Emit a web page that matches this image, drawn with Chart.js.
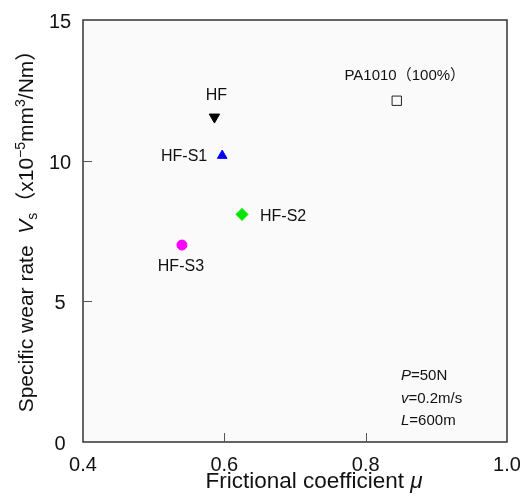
<!DOCTYPE html>
<html lang="en">
<head>
    <meta charset="UTF-8">
    <title>Specific wear rate vs frictional coefficient</title>
    <script src="https://cdn.jsdelivr.net/npm/chart.js"></script>
    <style>
        body {
            margin: 0;
            padding: 0;
            background-color: #fff;
        }
        .chartBox {
            position: relative;
            width: 522px;
            height: 500px;
        }
    </style>
</head>
<body>
    <div class="chartBox">
        <canvas id="myChart"></canvas>
    </div>
    <script>
        // values
        const sampleNames = ['HF', 'HF-S1', 'HF-S2', 'HF-S3', 'PA1010（100%）'];
        const frictionCoef = [0.586, 0.597, 0.625, 0.540, 0.844];
        const wearRate = [11.55, 10.18, 8.09, 7.00, 12.13];
        const xTicks = [0.4, 0.6, 0.8, 1.0];
        const yTicks = [0, 5, 10, 15];
        const testConditions = [['P', '=50N'], ['v', '=0.2m/s'], ['L', '=600m']];

        const FONT = '"Liberation Sans", Arial, "Noto Sans CJK JP", sans-serif';
        const TEXT = '#111';

        // marker look + where its label sits relative to the marker
        const markStyles = [
            {shape: 'triangle', rotation: 180, radius: 6, fill: '#000', stroke: '#000', dx: 2, dy: -21, align: 'center', size: 16},
            {shape: 'triangle', rotation: 0, radius: 5.5, fill: '#0000ff', stroke: '#0000ff', dx: -15, dy: 1, align: 'right', size: 16},
            {shape: 'rectRot', rotation: 0, radius: 6, fill: '#00e600', stroke: '#00e600', dx: 18, dy: 2, align: 'left', size: 16},
            {shape: 'circle', rotation: 0, radius: 5, fill: '#ff00ff', stroke: '#ff00ff', dx: -1, dy: 22, align: 'center', size: 16},
            {shape: 'rect', rotation: 0, radius: 6.6, fill: '#fafafa', stroke: '#222', dx: 8, dy: -25, align: 'center', size: 15}
        ];

        const datasets = sampleNames.map((name, i) => {
            const s = markStyles[i];
            return {
                label: name,
                data: [{x: frictionCoef[i], y: wearRate[i]}],
                pointStyle: s.shape,
                pointRotation: s.rotation,
                pointRadius: s.radius,
                pointBackgroundColor: s.fill,
                pointBorderColor: s.stroke,
                pointBorderWidth: 1,
                showLine: false
            };
        });

        function fontOf(r) {
            return (r.italic ? 'italic ' : '') + r.size + 'px ' + FONT;
        }

        // draws a row of text pieces with their own size / italic / baseline shift
        function drawRuns(ctx, runs, x, y, align) {
            let total = 0;
            runs.forEach(r => {
                ctx.font = fontOf(r);
                r.w = ctx.measureText(r.t).width;
                total += r.w;
            });
            let cx = align === 'center' ? x - total / 2 : x;
            ctx.textAlign = 'left';
            ctx.textBaseline = 'alphabetic';
            runs.forEach(r => {
                ctx.font = fontOf(r);
                ctx.fillText(r.t, cx, y + (r.shift || 0));
                cx += r.w;
            });
        }

        const figurePlugin = {
            id: 'figure',
            beforeDraw(chart) {
                const {ctx, chartArea: a} = chart;
                ctx.save();
                ctx.fillStyle = '#fafafa';
                ctx.fillRect(a.left, a.top, a.right - a.left, a.bottom - a.top);
                ctx.restore();
            },
            afterDraw(chart) {
                const {ctx, chartArea: a, scales} = chart;
                ctx.save();

                // frame
                ctx.strokeStyle = '#333';
                ctx.lineWidth = 1.5;
                ctx.strokeRect(a.left, a.top, a.right - a.left, a.bottom - a.top);

                // inward tick marks
                ctx.strokeStyle = '#555';
                ctx.lineWidth = 1;
                ctx.beginPath();
                xTicks.slice(1, -1).forEach(v => {
                    const px = Math.round(scales.x.getPixelForValue(v)) + 0.5;
                    ctx.moveTo(px, a.bottom);
                    ctx.lineTo(px, a.bottom - 9);
                });
                yTicks.slice(1, -1).forEach(v => {
                    const py = Math.round(scales.y.getPixelForValue(v)) + 0.5;
                    ctx.moveTo(a.left, py);
                    ctx.lineTo(a.left + 9, py);
                });
                ctx.stroke();

                // tick labels
                ctx.fillStyle = TEXT;
                ctx.font = '20px ' + FONT;
                ctx.textAlign = 'center';
                ctx.textBaseline = 'alphabetic';
                xTicks.forEach(v => {
                    ctx.fillText(v.toFixed(1), scales.x.getPixelForValue(v), a.bottom + 29);
                });
                yTicks.forEach(v => {
                    ctx.fillText(String(v), a.left - 23, scales.y.getPixelForValue(v) + 8);
                });

                // sample labels next to markers
                ctx.textBaseline = 'middle';
                chart.data.datasets.forEach((ds, i) => {
                    const pt = chart.getDatasetMeta(i).data[0];
                    const s = markStyles[i];
                    ctx.font = s.size + 'px ' + FONT;
                    ctx.textAlign = s.align;
                    ctx.fillText(ds.label, pt.x + s.dx, pt.y + s.dy);
                });

                // test conditions
                testConditions.forEach((c, i) => {
                    drawRuns(ctx, [
                        {t: c[0], size: 15, italic: true},
                        {t: c[1], size: 15}
                    ], a.left + 318, a.bottom - 62 + i * 22.5, 'left');
                });

                // x title
                drawRuns(ctx, [
                    {t: 'Frictional coefficient ', size: 22.5},
                    {t: 'μ', size: 22.5, italic: true}
                ], (a.left + a.right) / 2 + 19, 488, 'center');

                // y title (rotated)
                ctx.translate(33, (a.top + a.bottom) / 2 - 5);
                ctx.rotate(-Math.PI / 2);
                drawRuns(ctx, [
                    {t: 'Specific wear rate  ', size: 21},
                    {t: 'V', size: 21, italic: true},
                    {t: 's', size: 14, shift: 4},
                    {t: '（x10', size: 21},
                    {t: '−5', size: 14, shift: -8},
                    {t: 'mm', size: 21},
                    {t: '3', size: 14, shift: -8},
                    {t: '/Nm）', size: 21}
                ], 0, 0, 'center');

                ctx.restore();
            }
        };

        const ctx = document.getElementById('myChart');

        const myChart = new Chart(ctx, {
            type: 'scatter',
            data: {datasets: datasets},
            options: {
                responsive: true,
                maintainAspectRatio: false,
                animation: false,
                events: [],
                layout: {
                    padding: {top: 20, right: 15, left: 0, bottom: 0}
                },
                plugins: {
                    legend: {display: false},
                    tooltip: {enabled: false}
                },
                scales: {
                    x: {
                        type: 'linear',
                        min: 0.4,
                        max: 1.0,
                        afterFit: s => { s.height = 58; },
                        afterBuildTicks: s => { s.ticks = xTicks.map(v => ({value: v})); },
                        grid: {display: false, drawTicks: false},
                        border: {display: false},
                        ticks: {display: false}
                    },
                    y: {
                        type: 'linear',
                        min: 0,
                        max: 15,
                        afterFit: s => { s.width = 83; },
                        afterBuildTicks: s => { s.ticks = yTicks.map(v => ({value: v})); },
                        grid: {display: false, drawTicks: false},
                        border: {display: false},
                        ticks: {display: false}
                    }
                }
            },
            plugins: [figurePlugin]
        });
    </script>
</body>
</html>
